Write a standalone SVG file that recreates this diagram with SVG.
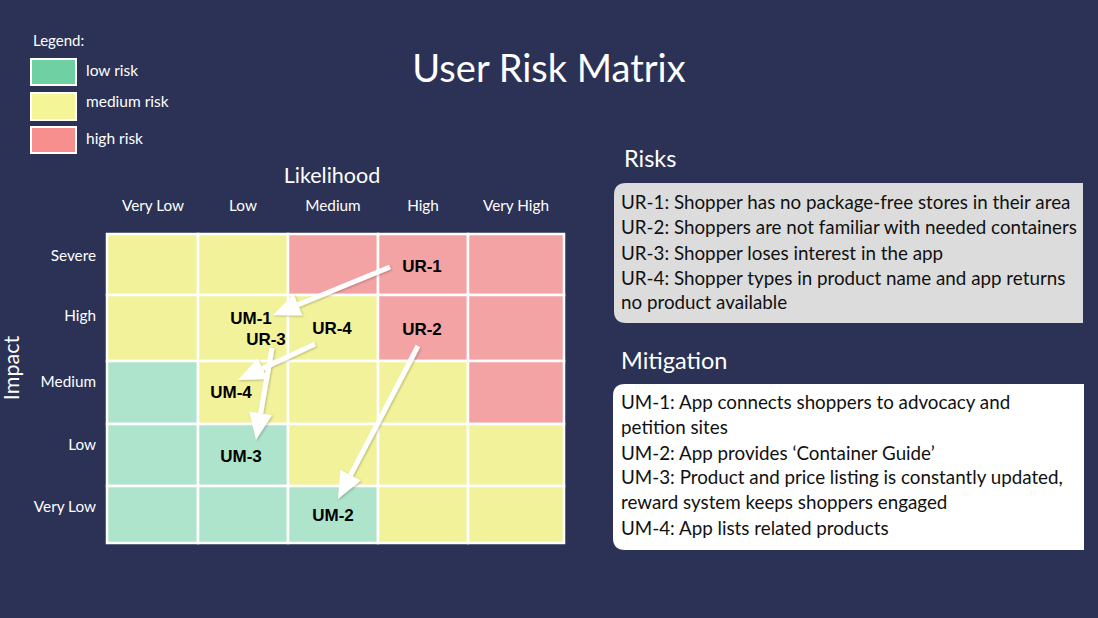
<svg xmlns="http://www.w3.org/2000/svg" width="1098" height="618" viewBox="0 0 1098 618">
  <style>
    .ui { font-family: Lato, "Noto Sans", "Liberation Sans", sans-serif; fill: #ffffff; }
    .title { font-size: 38px; }
    .axis { font-size: 21.5px; }
    .head { font-size: 15.3px; }
    .legend { font-size: 15.5px; }
    .section { font-size: 23.5px; }
    .body { font-family: Lato, "Noto Sans", "Liberation Sans", sans-serif; font-size: 18.8px; fill: #111111; }
    .tag { font-family: "Liberation Sans", Arial, sans-serif; font-weight: bold; font-size: 17px; fill: #000000; text-anchor: middle; }
    .cell { stroke: #ffffff; stroke-width: 2.5; }
    .lo { fill: #aee4cb; }
    .md { fill: #f2f29b; }
    .hi { fill: #f4a3a4; }
    .sw { stroke: #ffffff; stroke-width: 2; }
    .arrow { stroke: #ffffff; stroke-width: 5; fill: none; marker-end: url(#head); }
  </style>
  <defs>
    <marker id="head" markerUnits="userSpaceOnUse" markerWidth="28" markerHeight="24" viewBox="0 0 28 24" refX="0" refY="12" orient="auto" overflow="visible">
      <path d="M0,0.5 L27,12 L0,23.5 z" fill="#ffffff"/>
    </marker>
    <filter id="soft" filterUnits="userSpaceOnUse" x="0" y="0" width="1098" height="618">
      <feDropShadow dx="1" dy="1" stdDeviation="1" flood-color="#000000" flood-opacity="0.25"/>
    </filter>
  </defs>

  <!-- background -->
  <rect x="0" y="0" width="1098" height="618" fill="#2b3256"/>

  <!-- title -->
  <text class="ui title" x="549" y="82" text-anchor="middle">User Risk Matrix</text>

  <!-- legend -->
  <g id="legend">
    <text class="ui" x="33" y="46" font-size="15">Legend:</text>
    <rect class="sw" x="31" y="59" width="45" height="26" fill="#6fd1a3"/>
    <rect class="sw" x="31" y="93" width="45" height="27" fill="#f3f596"/>
    <rect class="sw" x="31" y="127" width="45" height="26" fill="#f88f8f"/>
    <text class="ui legend" x="86" y="76">low risk</text>
    <text class="ui legend" x="86" y="107">medium risk</text>
    <text class="ui legend" x="86" y="144">high risk</text>
  </g>

  <!-- axis titles and headings -->
  <g id="axes">
    <text class="ui axis" x="332" y="183" text-anchor="middle">Likelihood</text>
    <text class="ui axis" transform="translate(19,368) rotate(-90)" text-anchor="middle">Impact</text>
    <g class="ui head" text-anchor="middle">
      <text x="153" y="211">Very Low</text>
      <text x="243" y="211">Low</text>
      <text x="333" y="211">Medium</text>
      <text x="423" y="211">High</text>
      <text x="516" y="211">Very High</text>
    </g>
    <g class="ui head" text-anchor="end">
      <text x="96" y="261">Severe</text>
      <text x="96" y="321">High</text>
      <text x="96" y="387">Medium</text>
      <text x="96" y="450">Low</text>
      <text x="96" y="512">Very Low</text>
    </g>
  </g>

  <!-- risk matrix cells -->
  <g id="matrix">
    <!-- Severe -->
    <rect class="cell md" x="107" y="234" width="91" height="61"/>
    <rect class="cell md" x="198" y="234" width="90" height="61"/>
    <rect class="cell hi" x="288" y="234" width="90" height="61"/>
    <rect class="cell hi" x="378" y="234" width="90" height="61"/>
    <rect class="cell hi" x="468" y="234" width="96" height="61"/>
    <!-- High -->
    <rect class="cell md" x="107" y="295" width="91" height="66"/>
    <rect class="cell md" x="198" y="295" width="90" height="66"/>
    <rect class="cell md" x="288" y="295" width="90" height="66"/>
    <rect class="cell hi" x="378" y="295" width="90" height="66"/>
    <rect class="cell hi" x="468" y="295" width="96" height="66"/>
    <!-- Medium -->
    <rect class="cell lo" x="107" y="361" width="91" height="63"/>
    <rect class="cell md" x="198" y="361" width="90" height="63"/>
    <rect class="cell md" x="288" y="361" width="90" height="63"/>
    <rect class="cell md" x="378" y="361" width="90" height="63"/>
    <rect class="cell hi" x="468" y="361" width="96" height="63"/>
    <!-- Low -->
    <rect class="cell lo" x="107" y="424" width="91" height="62"/>
    <rect class="cell lo" x="198" y="424" width="90" height="62"/>
    <rect class="cell md" x="288" y="424" width="90" height="62"/>
    <rect class="cell md" x="378" y="424" width="90" height="62"/>
    <rect class="cell md" x="468" y="424" width="96" height="62"/>
    <!-- Very Low -->
    <rect class="cell lo" x="107" y="486" width="91" height="57"/>
    <rect class="cell lo" x="198" y="486" width="90" height="57"/>
    <rect class="cell lo" x="288" y="486" width="90" height="57"/>
    <rect class="cell md" x="378" y="486" width="90" height="57"/>
    <rect class="cell md" x="468" y="486" width="96" height="57"/>
  </g>

  <!-- risk and mitigation markers -->
  <g id="ur-1"><text class="tag" x="422" y="272">UR-1</text></g>
  <g id="ur-2"><text class="tag" x="422" y="335">UR-2</text></g>
  <g id="ur-3"><text class="tag" x="266" y="345">UR-3</text></g>
  <g id="ur-4"><text class="tag" x="332" y="334">UR-4</text></g>
  <g id="um-1"><text class="tag" x="251" y="324">UM-1</text></g>
  <g id="um-2"><text class="tag" x="333" y="521">UM-2</text></g>
  <g id="um-3"><text class="tag" x="241" y="462">UM-3</text></g>
  <g id="um-4"><text class="tag" x="231" y="398">UM-4</text></g>

  <!-- connectors: risk to mitigation -->
  <g id="connectors" filter="url(#soft)">
    <line class="arrow" x1="390" y1="267" x2="298" y2="304.8"/>
    <line class="arrow" x1="315" y1="344" x2="262.5" y2="368.6"/>
    <line class="arrow" x1="272" y1="348" x2="260.6" y2="413.4"/>
    <line class="arrow" x1="418" y1="346" x2="350.5" y2="475.1"/>
  </g>

  <!-- risks panel -->
  <g id="risks">
    <text class="ui section" x="624" y="167">Risks</text>
    <path d="M626,183 H1083 V323 H626 Q614,323 614,311 V195 Q614,183 626,183 z" fill="#dcdcdc"/>
    <text class="body" x="621" y="209">UR-1: Shopper has no package-free stores in their area</text>
    <text class="body" x="621" y="234">UR-2: Shoppers are not familiar with needed containers</text>
    <text class="body" x="621" y="260">UR-3: Shopper loses interest in the app</text>
    <text class="body" x="621" y="285">UR-4: Shopper types in product name and app returns</text>
    <text class="body" x="621" y="309">no product available</text>
  </g>

  <!-- mitigation panel -->
  <g id="mitigation">
    <text class="ui section" x="621" y="369">Mitigation</text>
    <path d="M625,384 H1084 V550 H625 Q613,550 613,538 V396 Q613,384 625,384 z" fill="#ffffff"/>
    <text class="body" x="621" y="409">UM-1: App connects shoppers to advocacy and</text>
    <text class="body" x="621" y="434">petition sites</text>
    <text class="body" x="621" y="460">UM-2: App provides ‘Container Guide’</text>
    <text class="body" x="621" y="484">UM-3: Product and price listing is constantly updated,</text>
    <text class="body" x="621" y="509">reward system keeps shoppers engaged</text>
    <text class="body" x="621" y="535">UM-4: App lists related products</text>
  </g>
</svg>
